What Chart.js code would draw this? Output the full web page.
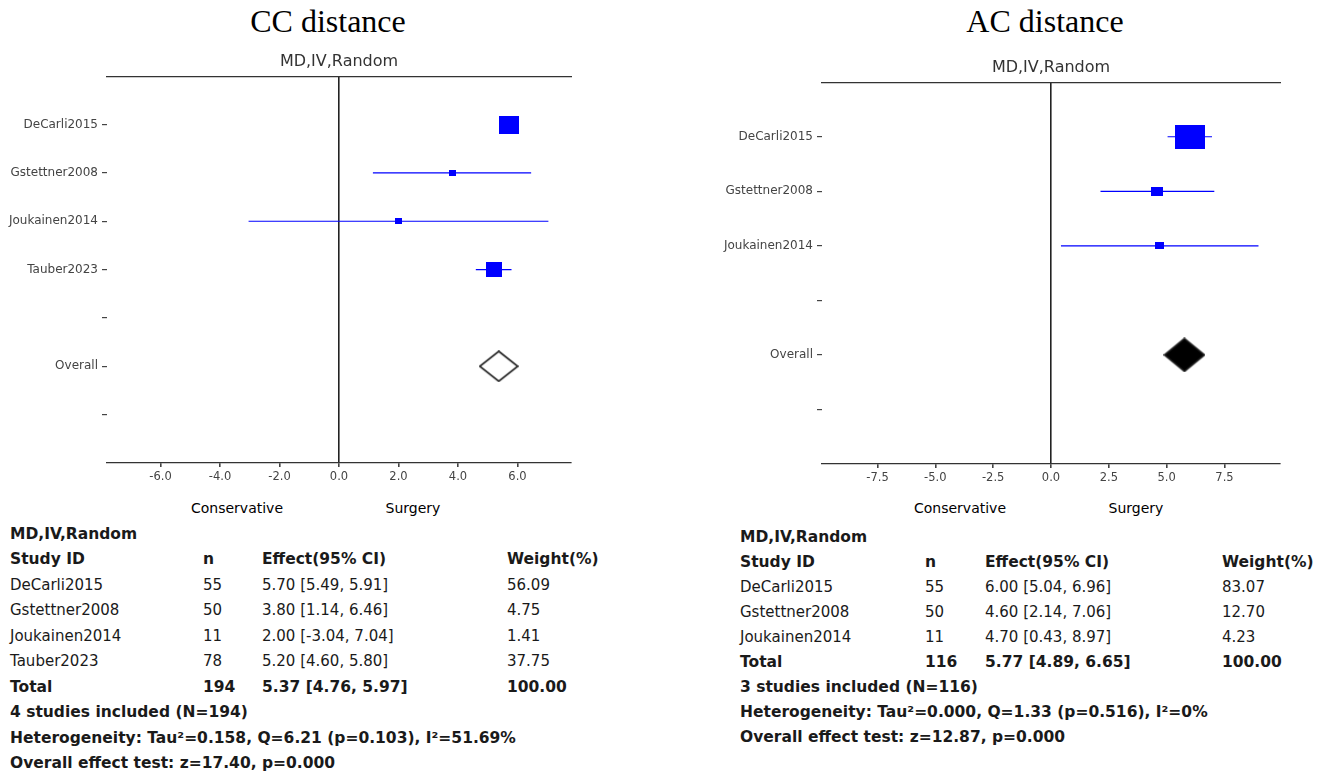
<!DOCTYPE html>
<html lang="en">
<head>
<meta charset="UTF-8">
<title>CC / AC distance forest plots</title>
<script src="https://cdn.jsdelivr.net/npm/chart.js"></script>
<style>
  body { margin: 0; background: #fff; width: 1329px; height: 777px; position: relative; overflow: hidden;
         font-family: "DejaVu Sans", sans-serif; color: #1a1a1a; }
  .title { position: absolute; top: 0; width: 400px; text-align: center; line-height: 42px;
           font-family: "Liberation Serif", "Times New Roman", serif; font-size: 32px; color: #000; }
  .plot { position: absolute; }
  .side { position: absolute; top: 500px; font-size: 14px; color: #000; transform: translateX(-50%); white-space: nowrap; }
  table.res { position: absolute; border-collapse: collapse; font-size: 15px; }
  table.res td { padding: 0; white-space: nowrap; vertical-align: middle; }
  table.res tr.b td { font-weight: bold; font-size: 15.5px; }
</style>
</head>
<body>

<div class="title" style="left:128px">CC distance</div>
<div class="title" style="left:845px">AC distance</div>

<div class="plot" style="left:0; top:40px; width:600px; height:451px"><canvas id="ccChart"></canvas></div>
<div class="plot" style="left:700px; top:46px; width:629px; height:446px"><canvas id="acChart"></canvas></div>

<div class="side" style="left:237px">Conservative</div>
<div class="side" style="left:413px">Surgery</div>
<div class="side" style="left:960px">Conservative</div>
<div class="side" style="left:1136px">Surgery</div>

<table class="res" id="ccTable" style="left:10px; top:521px"></table>
<table class="res" id="acTable" style="left:740px; top:524px"></table>

<script>
// CC distance
const ccStudies = ['DeCarli2015', 'Gstettner2008', 'Joukainen2014', 'Tauber2023'];
const ccN = [55, 50, 11, 78];
const ccEffect = [5.70, 3.80, 2.00, 5.20];
const ccLower = [5.49, 1.14, -3.04, 4.60];
const ccUpper = [5.91, 6.46, 7.04, 5.80];
const ccWeight = [56.09, 4.75, 1.41, 37.75];
const ccOverall = [5.37, 4.76, 5.97];   // effect, lower, upper
const ccTotalN = 194;
const ccTicks = [-6, -4, -2, 0, 2, 4, 6];
const ccNotes = ['4 studies included (N=194)',
                 'Heterogeneity: Tau²=0.158, Q=6.21 (p=0.103), I²=51.69%',
                 'Overall effect test: z=17.40, p=0.000'];

// AC distance
const acStudies = ['DeCarli2015', 'Gstettner2008', 'Joukainen2014'];
const acN = [55, 50, 11];
const acEffect = [6.00, 4.60, 4.70];
const acLower = [5.04, 2.14, 0.43];
const acUpper = [6.96, 7.06, 8.97];
const acWeight = [83.07, 12.70, 4.23];
const acOverall = [5.77, 4.89, 6.65];
const acTotalN = 116;
const acTicks = [-7.5, -5, -2.5, 0, 2.5, 5, 7.5];
const acNotes = ['3 studies included (N=116)',
                 'Heterogeneity: Tau²=0.000, Q=1.33 (p=0.516), I²=0%',
                 'Overall effect test: z=12.87, p=0.000'];

const BLUE = '#0000ff';

// small canvases used as point styles (boxes / diamonds)
function marker(w, h, fill, stroke, diamond) {
    const c = document.createElement('canvas');
    c.width = w; c.height = h;
    const g = c.getContext('2d');
    g.beginPath();
    if (diamond) {
        g.moveTo(w / 2, 1); g.lineTo(w - 1, h / 2); g.lineTo(w / 2, h - 1); g.lineTo(1, h / 2);
        g.closePath();
    } else {
        g.rect(0, 0, w, h);
    }
    if (fill) { g.fillStyle = fill; g.fill(); }
    if (stroke) { g.strokeStyle = stroke; g.lineWidth = 1.6; g.stroke(); }
    return c;
}

function forest(id, p) {
    const rows = p.studies.concat(['', 'Overall', '']);
    const overallRow = p.studies.length + 1;
    const maxW = Math.max(...p.weight);
    const datasets = [];

    // confidence intervals
    p.studies.forEach((s, i) => {
        datasets.push({
            data: [{x: p.lower[i], y: i}, {x: p.upper[i], y: i}],
            showLine: true, borderColor: BLUE, borderWidth: 1.2, pointRadius: 0
        });
    });

    // study boxes, area follows the weight
    datasets.push({
        data: p.effect.map((v, i) => ({x: v, y: i})),
        pointStyle: p.weight.map(w => {
            const s = Math.max(p.minBox, p.maxBox * Math.sqrt(w / maxW));
            return marker(Math.round(s), Math.round(s * p.boxAspect), BLUE);
        }),
        pointRadius: 10
    });

    // pooled estimate
    datasets.push({
        data: [{x: p.overall[0], y: overallRow}],
        pointStyle: marker(p.diamond[0], p.diamond[1], p.diamondFill, '#222', true),
        pointRadius: 10
    });

    new Chart(document.getElementById(id), {
        type: 'scatter',
        data: { datasets: datasets },
        options: {
            responsive: true,
            maintainAspectRatio: false,
            animation: false,
            events: [],
            layout: { padding: { left: 0, right: p.padRight, top: 0, bottom: 0 } },
            plugins: {
                legend: { display: false },
                tooltip: { enabled: false },
                title: {
                    display: true, text: 'MD,IV,Random', fullSize: false, color: '#333',
                    font: { family: 'DejaVu Sans', size: 16, weight: 'normal' },
                    padding: { top: 12, bottom: 5 }
                }
            },
            scales: {
                x: {
                    type: 'linear', min: -p.lim, max: p.lim,
                    afterBuildTicks: a => { a.ticks = p.ticks.map(v => ({value: v})); },
                    afterFit: a => { a.height = 28; },
                    ticks: {
                        callback: v => v.toFixed(1), color: '#444', padding: 3,
                        maxRotation: 0, autoSkip: false,
                        font: { family: 'DejaVu Sans', size: 11.5 }
                    },
                    grid: {
                        color: c => (c.tick && c.tick.value === 0) ? '#222' : 'rgba(0,0,0,0)',
                        lineWidth: 1.6, tickColor: '#444', tickLength: 4
                    },
                    border: { color: '#333', width: 1.3 }
                },
                x2: {
                    type: 'linear', position: 'top', min: -p.lim, max: p.lim,
                    afterFit: a => { a.height = 0; },
                    ticks: { display: false },
                    grid: { drawOnChartArea: false, drawTicks: false },
                    border: { display: true, color: '#333', width: 1.3 }
                },
                y: {
                    type: 'linear', reverse: true, min: -1, max: rows.length,
                    afterBuildTicks: a => { a.ticks = rows.map((r, i) => ({value: i})); },
                    afterFit: a => { a.width = p.axisWidth; },
                    ticks: {
                        callback: v => rows[v], color: '#444', padding: 4,
                        autoSkip: false, font: { family: 'DejaVu Sans', size: 12 }
                    },
                    grid: { drawOnChartArea: false, tickColor: '#444', tickLength: 5, lineWidth: 1.2 },
                    border: { display: false }
                }
            }
        }
    });
}

function fmt(e, lo, hi) {
    return e.toFixed(2) + ' [' + lo.toFixed(2) + ', ' + hi.toFixed(2) + ']';
}

function results(id, p) {
    const cols = '<colgroup><col style="width:' + p.cols[0] + 'px"><col style="width:' + p.cols[1] +
                 'px"><col style="width:' + p.cols[2] + 'px"><col></colgroup>';
    const tr = (cells, bold) => '<tr class="' + (bold ? 'b' : '') + '" style="height:' + p.rowH + 'px">' +
        cells.map(c => '<td>' + c + '</td>').join('') + '</tr>';
    const wide = (txt) => '<tr class="b" style="height:' + p.rowH + 'px"><td colspan="4">' + txt + '</td></tr>';
    let html = cols + wide('MD,IV,Random');
    html += tr(['Study ID', 'n', 'Effect(95% CI)', 'Weight(%)'], true);
    p.studies.forEach((s, i) => {
        html += tr([s, p.n[i], fmt(p.effect[i], p.lower[i], p.upper[i]), p.weight[i].toFixed(2)]);
    });
    html += tr(['Total', p.totalN, fmt(p.overall[0], p.overall[1], p.overall[2]), '100.00'], true);
    p.notes.forEach(t => { html += wide(t); });
    document.getElementById(id).innerHTML = html;
}

const cc = {
    studies: ccStudies, n: ccN, effect: ccEffect, lower: ccLower, upper: ccUpper, weight: ccWeight,
    overall: ccOverall, totalN: ccTotalN, ticks: ccTicks, notes: ccNotes,
    lim: 7.8, axisWidth: 107, padRight: 29, maxBox: 20, minBox: 7, boxAspect: 0.9,
    diamond: [40, 32], diamondFill: null, cols: [193, 59, 245], rowH: 25.5
};
const ac = {
    studies: acStudies, n: acN, effect: acEffect, lower: acLower, upper: acUpper, weight: acWeight,
    overall: acOverall, totalN: acTotalN, ticks: acTicks, notes: acNotes,
    lim: 9.9, axisWidth: 122, padRight: 49, maxBox: 30, minBox: 9, boxAspect: 0.8,
    diamond: [42, 35], diamondFill: '#000', cols: [185, 60, 237], rowH: 25
};

forest('ccChart', cc);
forest('acChart', ac);
results('ccTable', cc);
results('acTable', ac);
</script>
</body>
</html>
